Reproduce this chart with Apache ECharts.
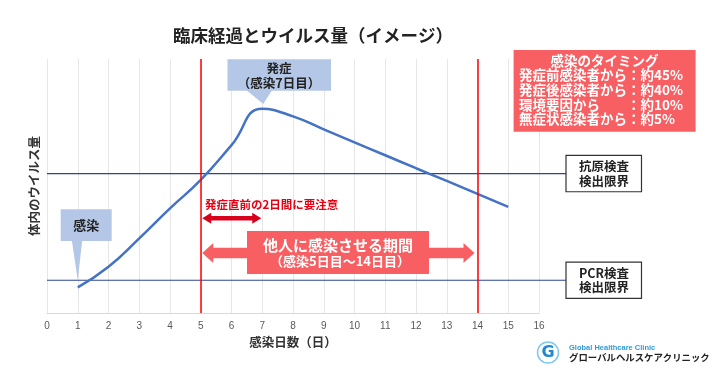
<!DOCTYPE html>
<html><head><meta charset="utf-8">
<script src="https://cdn.jsdelivr.net/npm/echarts@6/dist/echarts.min.js"></script>
<style>html,body{margin:0;padding:0;background:#fff}#c{width:720px;height:371px}</style>
</head><body><div id="c"></div>
<script>
const days = [1,2,3,4,5,6,7,8,9,10,11,12,13,14,15];
const viralLoad = [10.1,18.2,29.4,41.2,52.4,66.1,80.4,77.4,72.3,67.2,62.1,57.0,52.0,46.9,41.8];
const testLimitNames = [['抗原検査','検出限界'],['PCR検査','検出限界']];
const testLimits = [54.9, 12.9];
const infectiousDays = [5, 14];
const cautionDays = [5, 7];
const onsetDay = 7;
const infectionDay = 1;
const chartTitle = '臨床経過とウイルス量（イメージ）';
const timingTitle = '感染のタイミング';
const timingLines = ['発症前感染者から：約45%','発症後感染者から：約40%','環境要因から　　：約10%','無症状感染者から：約5%'];

const JP = '"Noto Sans CJK JP", "Noto Sans", sans-serif';
const chart = echarts.init(document.getElementById('c'), null, {renderer:'canvas'});
chart.setOption({
  animation:false,
  grid:{left:47,right:181,top:59,bottom:58},
  xAxis:{type:'value',min:0,max:16,interval:1,
    axisLine:{lineStyle:{color:'#D9D9D9'}}, axisTick:{show:false},
    axisLabel:{color:'#595959',fontSize:10,margin:8,fontFamily:'"Liberation Sans", sans-serif'},
    splitLine:{show:true,lineStyle:{color:'#E6E6E6',width:1}},
    name:'感染日数（日）',nameLocation:'middle',nameGap:23,
    nameTextStyle:{fontFamily:JP,fontSize:12.5,fontWeight:'bold',color:'#333'}},
  yAxis:{type:'value',min:0,max:100,axisLine:{show:false},axisTick:{show:false},axisLabel:{show:false},splitLine:{show:false},
    name:'体内のウイルス量',nameLocation:'middle',nameGap:6,nameRotate:90,
    nameTextStyle:{fontFamily:JP,fontSize:12.5,fontWeight:'bold',color:'#333'}},
  series:[{type:'line',data:days.map((d,i)=>[d,viralLoad[i]]),smooth:0.5,showSymbol:false,
    lineStyle:{color:'#4472C4',width:2.5},z:3,
    markLine:{silent:true,symbol:'none',label:{show:false},
      lineStyle:{color:'#FF0000',width:1.5,type:'solid'},
      data:infectiousDays.map(d=>({xAxis:d}))}}]
});

const px = (x,y)=>chart.convertToPixel({gridIndex:0},[x,y]);
const g = [];
const txt = (text,x,y,size,color,align,weight,extra)=>g.push(Object.assign({type:'text',x:x,y:y,z:20,
  style:{text:text,font:(weight||'bold')+' '+size+'px '+JP,fill:color,align:align||'center',verticalAlign:'middle'}},extra||{}));

// title
txt(chartTitle,313,35,17.5,'#222','center');

// detection limit lines + boxes
const gx0 = px(0,0)[0];
testLimits.forEach((v,i)=>{
  const y = px(0,v)[1];
  g.push({type:'line',z:1,shape:{x1:gx0,y1:y,x2:566,y2:y},style:{stroke:'#2E4692',lineWidth:1.2}});
  g.push({type:'rect',z:10,shape:{x:566,y:y-18.2,width:75.5,height:36.4},style:{fill:'#fff',stroke:'#333',lineWidth:1.2}});
  txt(testLimitNames[i][0],604,y-7.3,12.5,'#222');
  txt(testLimitNames[i][1],604,y+7.5,12.5,'#222');
});

// timing box
g.push({type:'rect',z:10,shape:{x:513.6,y:50,width:182,height:81.7},style:{fill:'#F75F62'}});
txt(timingTitle,604.5,60.5,13.5,'#fff','center');
timingLines.forEach((t,i)=>txt(t,519,75.2+i*14.6,13.5,'#fff','left'));

// onset callout
const onsetPt = px(onsetDay,viralLoad[onsetDay-1]);
g.push({type:'polygon',z:9,shape:{points:[[onsetPt[0]-16,90],[onsetPt[0]+10,90],[onsetPt[0]+1,104]]},style:{fill:'#B4C7E7'}});
g.push({type:'rect',z:10,shape:{x:227.5,y:59.3,width:103.5,height:31.4},style:{fill:'#B4C7E7'}});
txt('発症',279,68.5,12.5,'#222');
txt('（感染'+onsetDay+'日目）',279,83,12.5,'#222');

// infection callout
const infPt = px(infectionDay,testLimits[1]);
g.push({type:'polygon',z:9,shape:{points:[[infPt[0]-6,240],[infPt[0]+4.5,240],[infPt[0],infPt[1]]]},style:{fill:'#B4C7E7'}});
g.push({type:'rect',z:10,shape:{x:60.7,y:209.3,width:51,height:31.7},style:{fill:'#B4C7E7'}});
txt('感染',86.2,225.5,13,'#222');

// arrow helper
function dblArrow(x0,x1,y,t,H,h,color){
  g.push({type:'polygon',z:8,shape:{points:[[x0,y],[x0+h,y-H],[x0+h,y-t],[x1-h,y-t],[x1-h,y-H],[x1,y],[x1-h,y+H],[x1-h,y+t],[x0+h,y+t],[x0+h,y+H]]},style:{fill:color}});
}
// caution arrow
const c0 = px(cautionDays[0],0)[0], c1 = px(cautionDays[1],0)[0];
txt('発症直前の'+(cautionDays[1]-cautionDays[0])+'日間に要注意',205,204.3,11.5,'#E60012','left');
dblArrow(c0+1.5,c1-1,218.3,2.2,5.5,9,'#D9001B');

// infectious period arrow
const i0 = px(infectiousDays[0],0)[0], i1 = px(infectiousDays[1],0)[0];
dblArrow(i0+1.5,i1-3,253,5.3,10,11,'#F75F62');
g.push({type:'rect',z:9,shape:{x:247,y:231,width:182,height:43},style:{fill:'#F75F62'}});
txt('他人に感染させる期間',338,245,15,'#fff');
txt('（感染'+infectiousDays[0]+'日目～'+infectiousDays[1]+'日目）',340,261.5,13,'#fff');

// logo
g.push({type:'circle',z:10,shape:{cx:548,cy:352.5,r:10.5},style:{fill:'none',stroke:'#7FC8EE',lineWidth:1.5}});
g.push({type:'text',z:11,x:548,y:353,style:{text:'G',font:'bold 16px "DejaVu Sans", sans-serif',fill:'#1E88D0',align:'center',verticalAlign:'middle'}});
g.push({type:'text',z:11,x:569,y:348.3,style:{text:'Global Healthcare Clinic',font:'bold 7.5px "Liberation Sans", sans-serif',fill:'#2E9BD6',align:'left',verticalAlign:'middle'}});
txt('グローバルヘルスケアクリニック',569,357.5,9.4,'#222','left');

chart.setOption({graphic:g});
</script></body></html>
